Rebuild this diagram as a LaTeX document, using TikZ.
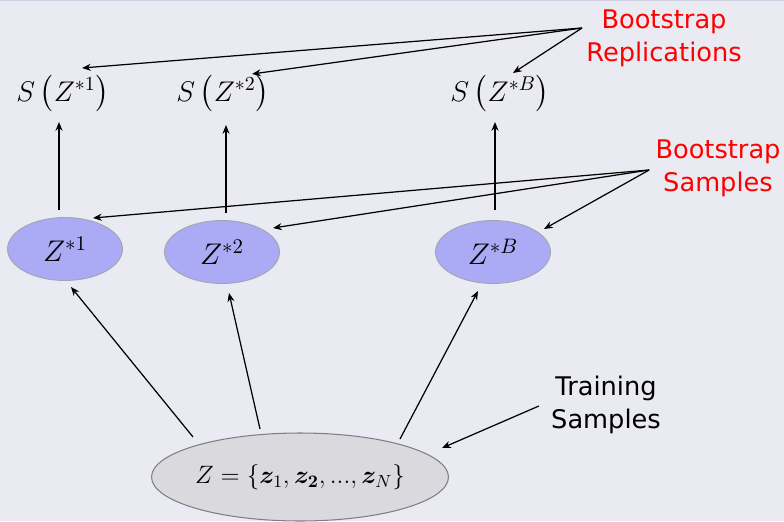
\RequirePackage{fix-cm}
\documentclass[tikz,border=0pt]{standalone}
\usepackage{fontspec}
\usepackage{amsmath}
\usepackage{bm}
\usetikzlibrary{positioning,arrows.meta,calc,shapes.geometric}
\newfontfamily\labfont{DejaVu Sans}
\definecolor{cBg}{HTML}{EAEAF2}
\definecolor{cRule}{HTML}{D0D0E2}
\definecolor{cSamp}{HTML}{AAAAF5}
\definecolor{cSampEdge}{HTML}{A4A4AE}
\definecolor{cData}{HTML}{D9D9DE}
\definecolor{cDataEdge}{HTML}{7E7E86}
\definecolor{cNote}{HTML}{FF0000}

\begin{document}
\begin{tikzpicture}[x=0.02cm,y=-0.02cm,
      samp/.style={ellipse,draw=cSampEdge,fill=cSamp,line width=0.5pt,inner sep=0pt,
                   minimum width=2.3cm,minimum height=1.26cm,font=\fontsize{17}{20}\selectfont},
      data/.style={ellipse,draw=cDataEdge,fill=cData,line width=0.6pt,inner sep=0pt,
                   minimum width=5.94cm,minimum height=1.76cm,font=\fontsize{14.3}{17}\selectfont},
      stat/.style={inner sep=0pt,font=\fontsize{16.2}{19}\selectfont},
      note/.style={align=center,inner sep=0pt,font=\labfont\fontsize{14.6}{18.8}\selectfont},
      arr/.style={-{Stealth[length=5pt,width=4pt]},line width=0.7pt}]
    \useasboundingbox (0,0) rectangle (784,521);
    \fill[cBg] (0,0) rectangle (784,521);
    \draw[cRule,line width=1pt] (0,0.5) -- (784,0.5);
    % replications
    \node[stat] (s1) at (63,94)  {$S\left(Z^{*1}\right)$};
    \node[stat] (s2) at (223,94) {$S\left(Z^{*2}\right)$};
    \node[stat] (sB) at (500,94) {$S\left(Z^{*B}\right)$};
    % bootstrap samples
    \node[samp] (z1) at (65,249)  {$Z^{*1}$};
    \node[samp] (z2) at (222,252) {$Z^{*2}$};
    \node[samp] (zB) at (493,252) {$Z^{*B}$};
    % training data
    \node[data] (Z) at (300,477) {$Z=\{\bm{z}_1,\bm{z}_{\bm{2}},...,\bm{z}_N\}$};
    % labels
    \node[note,text=cNote] (rep) at (664,38) {Bootstrap\\Replications};
    \node[note,text=cNote] (smp) at (718,168) {Bootstrap\\Samples};
    \node[note] (train) at (606,405) {Training\\Samples};
    % label pointers
    \coordinate (rp) at ($(rep.west)+(-4,-10)$);
    \draw[arr] (rp) -- ($(s1)+(19,-26)$);
    \draw[arr] (rp) -- ($(s2)+(29,-20)$);
    \draw[arr] (rp) -- ($(sB)+(13,-21)$);
    \coordinate (sp) at ($(smp.west)+(-6,2)$);
    \draw[arr] (sp) -- ($(z1)+(28,-31)$);
    \draw[arr] (sp) -- ($(z2)+(51,-24)$);
    \draw[arr] (sp) -- ($(zB)+(51,-23)$);
    \draw[arr] ($(train.west)+(-12,1)$) -- ($(Z)+(142,-29)$);
    % samples -> statistics
    \draw[arr] ($(z1.north)+(-6,-7)$) -- ($(s1)+(-4,28)$);
    \draw[arr] ($(z2.north)+(4,-7)$) -- ($(s2)+(3,31)$);
    \draw[arr] ($(zB.north)+(2,-10)$) -- ($(sB)+(-5,28)$);
    % data -> samples
    \draw[arr] ($(Z)+(-107,-40)$) -- ($(z1)+(6,38)$);
    \draw[arr] ($(Z)+(-40,-48)$) -- ($(z2)+(7,41)$);
    \draw[arr] ($(Z)+(100,-38)$) -- ($(zB)+(-15,39)$);
  \end{tikzpicture}
\end{document}
